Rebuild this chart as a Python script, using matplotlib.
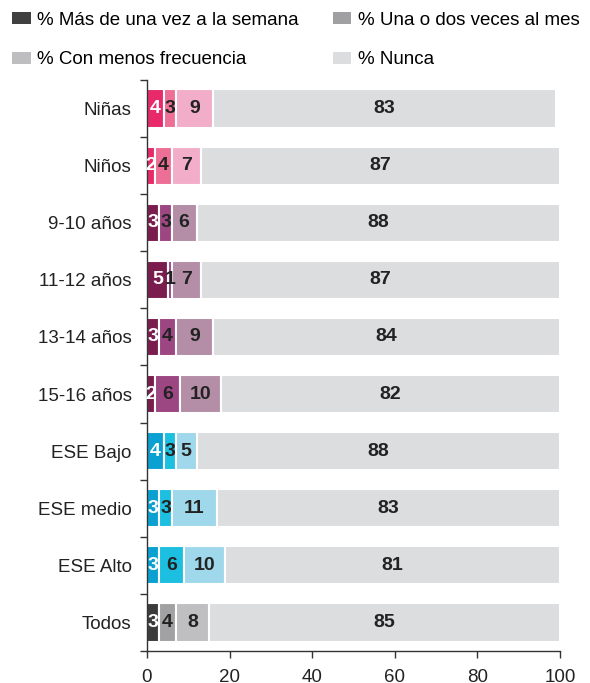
import matplotlib
matplotlib.use("Agg")
import matplotlib.pyplot as plt
from matplotlib.patches import Patch
import numpy as np

plt.rcParams['font.family'] = ['Liberation Sans', 'DejaVu Sans']

categories = ["Niñas", "Niños", "9-10 años", "11-12 años", "13-14 años",
              "15-16 años", "ESE Bajo", "ESE medio", "ESE Alto", "Todos"]
mas_semana = [4, 2, 3, 5, 3, 2, 4, 3, 3, 3]
una_dos_mes = [3, 4, 3, 1, 4, 6, 3, 3, 6, 4]
menos_frec = [9, 7, 6, 7, 9, 10, 5, 11, 10, 8]
nunca = [83, 87, 88, 87, 84, 82, 88, 83, 81, 85]

series_names = ["% Más de una vez a la semana", "% Una o dos veces al mes",
                "% Con menos frecuencia", "% Nunca"]
legend_colors = ["#404040", "#A0A0A2", "#BEBEC0", "#DCDDDF"]

group_colors = {
    "gender": ["#E8296A", "#EE6F96", "#F2AEC8", "#DCDDDF"],
    "age": ["#7B1C4E", "#9C4682", "#B48DA7", "#DCDDDF"],
    "ese": ["#0AA0D2", "#1CBFE0", "#9FD8EA", "#DCDDDF"],
    "all": ["#3B3B3B", "#A1A1A3", "#BFBFC1", "#DCDDDF"],
}
row_groups = ["gender", "gender", "age", "age", "age", "age", "ese", "ese", "ese", "all"]

fig = plt.figure(figsize=(5.9, 6.83), dpi=100)
W, H = 590, 683
ax = fig.add_axes([147 / W, 1 - 651 / H, (560 - 147) / W, (651 - 80) / H])

data = [mas_semana, una_dos_mes, menos_frec, nunca]
y = np.arange(len(categories))
for i, cat in enumerate(categories):
    left = 0
    cols = group_colors[row_groups[i]]
    for k in range(4):
        v = data[k][i]
        ax.barh(y[i], v, left=left, height=0.67, color=cols[k],
                edgecolor="white", linewidth=1.5)
        tc = "white" if k == 0 else "#222222"
        ax.text(left + v / 2, y[i], str(v), ha="center", va="center",
                fontsize=14, fontweight="bold", color=tc)
        left += v

ax.set_ylim(len(categories) - 0.5, -0.5)
ax.set_xlim(0, 100)
ax.set_yticks(y)
ax.set_yticklabels(categories, fontsize=13.5, color="#222222")
ax.set_yticks(np.arange(-0.5, len(categories), 1), minor=True)
ax.tick_params(axis="y", which="major", length=0, pad=11)
ax.tick_params(axis="y", which="minor", length=5, width=1, color="#333333", direction="out")
ax.set_xticks([0, 20, 40, 60, 80, 100])
ax.tick_params(axis="x", length=5, width=1, color="#333333", labelsize=13.5,
               labelcolor="#222222", pad=8)
for s in ["top", "right"]:
    ax.spines[s].set_visible(False)
for s in ["left", "bottom"]:
    ax.spines[s].set_color("#333333")
    ax.spines[s].set_linewidth(1)

handles = [Patch(facecolor=c, edgecolor="none") for c in legend_colors]
order = [0, 2, 1, 3]
fig.legend([handles[i] for i in order], [series_names[i] for i in order],
           ncol=2, loc="upper left", bbox_to_anchor=(12 / W, 1 - 12 / H),
           frameon=False, fontsize=13.5, handlelength=1.0, handleheight=0.6,
           handletextpad=0.35, columnspacing=1.8, labelspacing=1.2,
           borderpad=0, borderaxespad=0)

fig.savefig("out.png", dpi=100)
